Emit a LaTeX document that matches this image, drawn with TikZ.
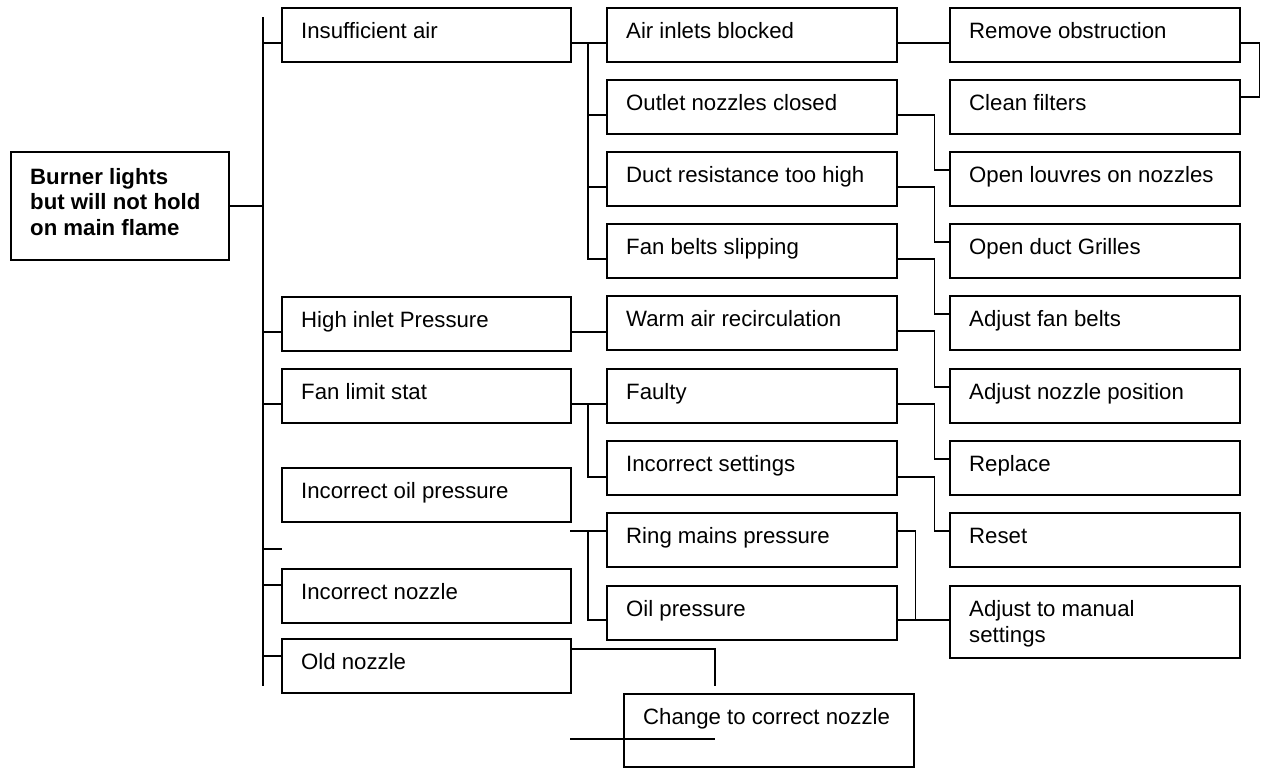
\documentclass[tikz,border=0pt]{standalone}
\usepackage{fontspec}
\setmainfont{Liberation Sans}
\usetikzlibrary{calc}
\begin{document}
\begin{tikzpicture}[x=1pt,y=-1pt,
  box/.style={draw=black, line width=2.3pt, rectangle, anchor=north west, inner sep=0pt, minimum height=54pt},
  cbox/.style={box, minimum width=289pt},
  lbl/.style={anchor=base west, inner sep=0pt, font=\fontsize{22.2}{25.7}\selectfont, align=left},
  wire/.style={line width=1.3pt, black},
  spine/.style={line width=1.9pt, black}
]
\useasboundingbox (0,0) rectangle (1262,771);
% helper: box with label (#6 = baseline offset of the last text line from the top)
\newcommand\tbox[6]{%
  \node[cbox,#5] (#1) at (#2,#3) {};
  \node[lbl] at ($(#1.north west)+(20,#6)$) {#4};}
% root
\node[box, minimum width=218.5pt, minimum height=108pt] (root) at (9.5,151) {};
\node[lbl, font=\bfseries\fontsize{22.2}{25.5}\selectfont] at ($(root.north west)+(20.5,84)$) {Burner lights\\but will not hold\\on main flame};
% column 1
\tbox{i1}{281}{7}{Insufficient air}{}{31}
\tbox{i2}{281}{296}{High inlet Pressure}{}{31}
\tbox{i3}{281}{368}{Fan limit stat}{}{31}
\tbox{i4}{281}{467}{Incorrect oil pressure}{}{31}
\tbox{i5}{281}{568}{Incorrect nozzle}{}{31}
\tbox{i6}{281}{638}{Old nozzle}{}{31}
% column 2
\tbox{a1}{606}{7}{Air inlets blocked}{minimum width=290pt}{31}
\tbox{a2}{606}{79}{Outlet nozzles closed}{minimum width=290pt}{31}
\tbox{a3}{606}{151}{Duct resistance too high}{minimum width=290pt}{31}
\tbox{a4}{606}{223}{Fan belts slipping}{minimum width=290pt}{31}
\tbox{a5}{606}{295}{Warm air recirculation}{minimum width=290pt}{31}
\tbox{a6}{606}{368}{Faulty}{minimum width=290pt}{31}
\tbox{a7}{606}{440}{Incorrect settings}{minimum width=290pt}{31}
\tbox{a8}{606}{512}{Ring mains pressure}{minimum width=290pt}{31}
\tbox{a9}{606}{585}{Oil pressure}{minimum width=290pt}{31}
% column 3
\tbox{r1}{949}{7}{Remove obstruction}{minimum width=290pt}{31}
\tbox{r2}{949}{79}{Clean filters}{minimum width=290pt}{31}
\tbox{r3}{949}{151}{Open louvres on nozzles}{minimum width=290pt}{31}
\tbox{r4}{949}{223}{Open duct Grilles}{minimum width=290pt}{31}
\tbox{r5}{949}{295}{Adjust fan belts}{minimum width=290pt}{31}
\tbox{r6}{949}{368}{Adjust nozzle position}{minimum width=290pt}{31}
\tbox{r7}{949}{440}{Replace}{minimum width=290pt}{31}
\tbox{r8}{949}{512}{Reset}{minimum width=290pt}{31}
\tbox{r9}{949}{585}{Adjust to manual\\settings}{minimum width=290pt, minimum height=72pt}{57}
% bottom box
\tbox{ch}{623}{693}{Change to correct nozzle}{minimum width=290pt, minimum height=73pt}{31}

% spine
\coordinate (sTop) at (263,17);
\coordinate (sBot) at (263,686);
\draw[spine] (sTop) -- (sBot);
\draw[spine] (root.east) -- (root.east -| sTop);
\foreach \n/\d in {i1/36, i2/36, i3/36, i5/17, i6/18}
  \draw[spine] ($(\n.north west)+(0,\d)$) -- ($(\n.north west)+(-18,\d)$);
\coordinate (stub) at (282,549);
\draw[spine] (stub -| sTop) -- (stub);

% column 1 -> column 2
\draw[wire] ($(i1.north east)+(0,36)$) -- ($(a1.north west)+(0,36)$);
\draw[wire] ($(a1.north west)+(-18,36)$) |- ($(a4.north west)+(0,36)$);
\foreach \n in {a2,a3}
  \draw[wire] ($(\n.north west)+(-18,36)$) -- ($(\n.north west)+(0,36)$);
\draw[wire] ($(i2.north east)+(0,36)$) -- ($(a5.north west)+(0,37)$);
\draw[wire] ($(i3.north east)+(0,36)$) -- ($(a6.north west)+(0,36)$);
\draw[wire] ($(a6.north west)+(-18,36)$) |- ($(a7.north west)+(0,37)$);
\coordinate (rs) at (570,531);
\draw[wire] (rs) -- ($(a8.north west)+(0,19)$);
\draw[wire] ($(a8.north west)+(-18,19)$) |- ($(a9.north west)+(0,35)$);

% column 2 -> column 3
\draw[wire] ($(a1.north east)+(0,36)$) -- ($(r1.north west)+(0,36)$);
\draw[wire] ($(r1.north east)+(0,36)$) -- ++(18,0) |- ($(r2.north east)+(0,18)$);
\foreach \s/\t in {a2/r3, a3/r4, a4/r5, a5/r6, a6/r7}
  \draw[wire] ($(\s.north east)+(0,36)$) -- ++(36,0) |- ($(\t.north west)+(0,19)$);
\draw[wire] ($(a7.north east)+(0,37)$) -- ++(36,0) |- ($(r8.north west)+(0,19)$);
\coordinate (rj) at ($(a9.north east)+(17,35)$);
\draw[wire] ($(a8.north east)+(0,19)$) -| (rj);
\draw[wire] ($(a9.north east)+(0,35)$) -- ($(r9.north west)+(0,35)$);

% old nozzle
\coordinate (oe) at (715,686);
\draw[wire] ($(i6.north east)+(0,11)$) -| (oe);
\coordinate (s1) at (570,739);
\coordinate (s2) at (715,739);
\draw[wire] (s1) -- (s2);
\end{tikzpicture}
\end{document}
